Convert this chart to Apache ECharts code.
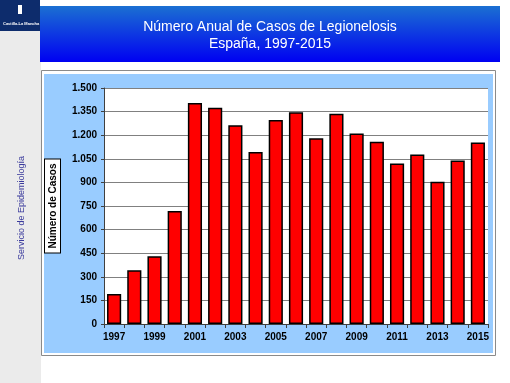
<!DOCTYPE html>
<html><head><meta charset="utf-8">
<script src="https://cdn.jsdelivr.net/npm/echarts@6/dist/echarts.min.js"></script>
<style>html,body{margin:0;padding:0;background:#fff}#c{width:510px;height:383px}</style>
</head><body><div id="c"></div>
<script>
var years = ['1997','1998','1999','2000','2001','2002','2003','2004','2005','2006','2007','2008','2009','2010','2011','2012','2013','2014','2015'];
var cases = [190,342,431,718,1405,1375,1263,1094,1297,1346,1181,1337,1211,1158,1020,1077,904,1039,1154];
var yTicks = [0,150,300,450,600,750,900,1050,1200,1350,1500];
var titleLines = ['Número Anual de Casos de Legionelosis','España, 1997-2015'];
var yName = 'Número de Casos';
var sideText = 'Servicio de Epidemiología';

function fmt(v){ return String(v).replace(/\B(?=(\d{3})+(?!\d))/g,'.'); }

var chart = echarts.init(document.getElementById('c'));
chart.setOption({
  animation:false,
  backgroundColor:'#ffffff',
  graphic:[
    {type:'rect', z:-20, shape:{x:0,y:31,width:41,height:352}, style:{fill:'#ebebeb'}},
    {type:'rect', z:-20, shape:{x:0,y:0,width:40,height:31}, style:{fill:'#0d2c6c'}},
    {type:'rect', z:-19, shape:{x:18,y:5,width:4,height:9}, style:{fill:'#ffffff'}},
    {type:'text', z:-19, left:3, top:22, style:{text:'Castilla-La Mancha', fill:'#ffffff', font:'bold 4px Arial'}},
    {type:'rect', z:-20, shape:{x:40,y:6,width:460,height:56},
      style:{fill:new echarts.graphic.LinearGradient(0,0,0,1,[{offset:0,color:'#1b70d2'},{offset:1,color:'#0000f2'}])}},
    {type:'text', z:-19, style:{text:titleLines.join('\n'), x:270, y:35.5, align:'center', verticalAlign:'middle', fill:'#ffffff', font:'14px Arial', lineHeight:17}},
    {type:'text', z:-19, rotation:Math.PI/2, x:22, y:208, style:{text:sideText, align:'center', verticalAlign:'middle', fill:'#3a3a9c', font:'9px Arial'}},
    {type:'rect', z:-20, shape:{x:41.5,y:70.5,width:454,height:285}, style:{fill:'#ffffff', stroke:'#8a8a8a', lineWidth:1}},
    {type:'rect', z:-19, shape:{x:44,y:74,width:449,height:279}, style:{fill:'#99ccff'}}
  ],
  grid:{left:104, right:22, top:88, bottom:59, show:true, backgroundColor:'#ffffff', borderWidth:0},
  xAxis:{
    type:'category', data:years,
    axisLine:{lineStyle:{color:'#404040', width:1}},
    axisTick:{show:true, interval:0, length:4, lineStyle:{color:'#404040'}},
    axisLabel:{interval:1, color:'#000', fontFamily:'Arial', fontWeight:'bold', fontSize:10, margin:8}
  },
  yAxis:{
    type:'value', min:0, max:1500, interval:150,
    name:yName, nameLocation:'middle', nameRotate:90, nameGap:44,
    nameTextStyle:{color:'#000', fontFamily:'Arial', fontWeight:'bold', fontSize:10, backgroundColor:'#ffffff', borderColor:'#000', borderWidth:1, padding:[3,4,2,4]},
    axisLine:{show:true, lineStyle:{color:'#404040'}},
    axisTick:{show:true, length:3, lineStyle:{color:'#404040'}},
    splitLine:{lineStyle:{color:'#808080', width:1}},
    axisLabel:{color:'#000', fontFamily:'Arial', fontWeight:'bold', fontSize:10, margin:7,
      formatter:function(v){ return yTicks.indexOf(v)>=0 ? fmt(v) : ''; }}
  },
  series:[{
    type:'bar', data:cases, barCategoryGap:'30%',
    itemStyle:{color:'#ff0000', borderColor:'#000000', borderWidth:1.5}
  }]
});
</script></body></html>
